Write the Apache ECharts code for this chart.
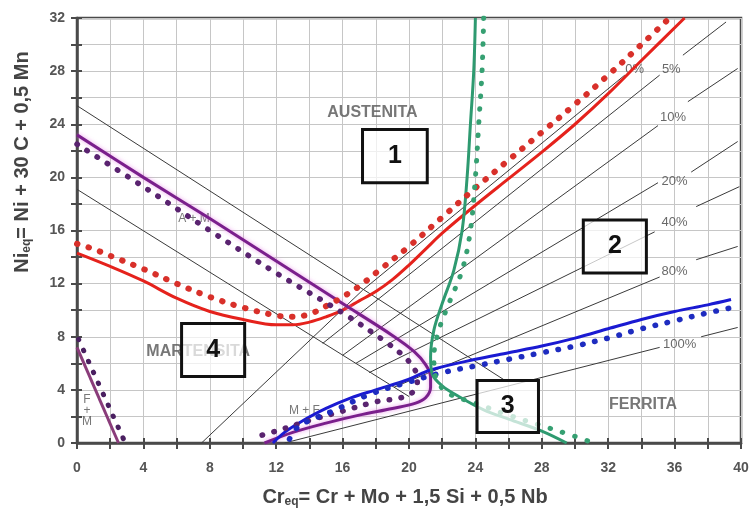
<!DOCTYPE html>
<html><head><meta charset="utf-8">
<script src="https://cdn.jsdelivr.net/npm/echarts@6/dist/echarts.min.js"></script>
<style>html,body{margin:0;padding:0;background:#fff}#c{width:752px;height:512px}</style>
</head><body><div id="c"></div>
<script>
// ---- axis ticks ----
const xTicks = [0, 4, 8, 12, 16, 20, 24, 28, 32, 36, 40];
const yTicks = [0, 4, 8, 12, 16, 20, 24, 28, 32];

// ---- thin black Schaeffler lines ----
const blackUpper = [[0, 25.4], [25.8, 4.7]];
const blackLower = [[0, 19.1], [20.0, 3.5]];
const blackRise = [[7.5, 0], [17.2, 11.5]];
const ferrite0 = [[17.2, 11.5], [33.0, 27.7]];
const ferrite5a = [[14.8, 7.5], [35.1, 27.7]];
const ferrite5b = [[36.5, 29.2], [39.1, 31.7]];
const ferrite10a = [[16.0, 6.6], [35.0, 23.9]];
const ferrite10b = [[36.8, 25.7], [39.8, 28.2]];
const ferrite20a = [[16.8, 6.0], [35.0, 19.6]];
const ferrite20b = [[37.0, 20.4], [39.8, 22.7]];
const ferrite40a = [[17.6, 5.3], [34.8, 15.9]];
const ferrite40b = [[37.3, 17.8], [39.9, 19.3]];
const ferrite80a = [[19.1, 4.2], [35.1, 12.5]];
const ferrite80b = [[37.3, 13.8], [39.8, 14.8]];
const ferrite100a = [[12.5, 0], [35.1, 7.2]];
const ferrite100b = [[37.6, 8.0], [39.8, 8.7]];

// ---- coloured curves ----
const redSolid = [[0,14.3],[2,13.3],[4,12.2],[6,10.9],[8,9.9],[10,9.3],[12,8.9],[13,8.9],[14,9.1],[15,9.5],[16,10.0],[17,10.7],[18,11.4],[19,12.3],[20,13.4],[21,14.6],[22,15.8],[24,17.9],[26,19.9],[28,21.9],[30,24.0],[32,26.3],[34,28.8],[36.6,32]];
const redDots = [[0,15.0],[1,14.6],[2,14.1],[4,13.1],[6,12.0],[8,11.0],[10,10.2],[12,9.6],[13,9.5],[14,9.7],[15,10.3],[16,11.0],[17,11.8],[18,12.8],[20,14.8],[22,17.0],[24,19.2],[26,21.3],[28,23.4],[30,25.5],[32,27.7],[34,30.0],[35.7,32]];
const purpleSolid = [[0,23.2],[4,20.0],[8,16.9],[12,13.7],[16,10.5],[19,8.1],[20.3,6.9],[21.0,5.9],[21.3,5.0],[21.3,4.2],[21.0,3.4],[20.4,3.0],[19,2.6],[17,2.1],[15,1.5],[13,0.8],[11.3,0]];
const purpleDots = [[0,22.5],[4,19.3],[8,16.0],[12,12.8],[16,9.8],[18.5,7.7],[19.8,6.4],[20.4,5.4],[20.5,4.5],[20.2,3.8],[19.5,3.4],[18,3.1],[16,2.4],[14,1.7],[12,0.9],[10.6,0.4]];
const fmSolid = [[0, 7.2], [2.5, 0]];
const fmDots = [[0.1, 7.8], [2.8, 0.3]];
const blueSolid = [[11.8,0],[12.5,0.8],[13.5,1.6],[15,2.6],[16.5,3.4],[18,4.0],[20,4.8],[21.3,5.5],[24,6.3],[26,6.8],[28,7.3],[30,7.9],[32,8.6],[34,9.3],[36,9.9],[38,10.4],[39.4,10.8]];
const blueDots = [[12.8,0.3],[13.4,1.3],[15.4,2.4],[17.7,3.7],[20,4.6],[22,5.3],[24,5.8],[26,6.3],[28,6.8],[30,7.3],[32,7.9],[34,8.6],[36,9.2],[38,9.8],[39.5,10.2]];
const greenSolid = [[24.0,32],[23.9,28],[23.7,24],[23.5,20],[23.2,16],[22.7,13],[22.0,10.5],[21.5,8.5],[21.3,6.5],[21.4,5.2],[22.0,4.3],[23.0,3.5],[24.5,2.5],[26,1.8],[28,0.9],[29.5,0]];
const greenDots = [[24.5,32],[24.4,28],[24.2,24],[24.0,20],[23.7,16],[23.2,13],[22.4,10.5],[21.8,8.5],[21.5,6.5],[21.6,5],[22.3,3.8],[24,3],[26,2.1],[28,1.3],[30,0.5],[31.1,0]];

// ---- annotation texts ----
const percentLabels = [['0%', 33.6, 28.1], ['5%', 35.8, 28.1], ['10%', 35.9, 24.5], ['20%', 36.0, 19.7], ['40%', 36.0, 16.6], ['80%', 36.0, 12.9], ['100%', 36.3, 7.4]];
const regionLabels = [['AUSTENITA', 17.8, 24.9], ['MARTENSITA', 7.3, 6.9], ['FERRITA', 34.1, 2.9]];
const smallLabels = [['A + M', 7.05, 16.9], ['M + F', 13.7, 2.4], ['F\n+\nM', 0.6, 2.4]];
const boxes = [['1', 17.2, 23.6, 21.1, 19.6], ['2', 30.5, 16.8, 34.3, 12.8], ['3', 24.1, 4.7, 27.8, 0.8], ['4', 6.3, 9.0, 10.1, 5.0]];

const FONT = 'Liberation Sans, Arial, sans-serif';
const chart = echarts.init(document.getElementById('c'), null, {renderer: 'canvas'});

function solid(data, color, width, z, extra) {
  return {type: 'line', data: data, symbol: 'none', smooth: 0.35, z: z || 3, silent: true,
    lineStyle: Object.assign({color: color, width: width}, extra || {})};
}
function dots(data, color, size, gap, z) {
  return {type: 'line', data: data, symbol: 'none', smooth: 0.35, z: z || 4, silent: true,
    lineStyle: {color: color, width: size, type: [0.5, gap], cap: 'round'}};
}
function thin(data) {
  return {type: 'line', data: data, symbol: 'none', z: 2, silent: true, lineStyle: {color: '#3a3a3a', width: 1}};
}
const thinLines = [blackUpper, blackLower, blackRise, ferrite0, ferrite5a, ferrite5b, ferrite10a, ferrite10b,
  ferrite20a, ferrite20b, ferrite40a, ferrite40b, ferrite80a, ferrite80b, ferrite100a, ferrite100b];

function labelSeries(list, style, z) {
  return {type: 'scatter', symbol: 'circle', symbolSize: 1, itemStyle: {color: 'rgba(0,0,0,0)'}, z: z || 6, silent: true,
    data: list.map(d => ({name: d[0], value: [d[1], d[2]]})),
    label: Object.assign({show: true, position: 'inside', formatter: p => p.name, fontFamily: FONT}, style),
    labelLayout: {hideOverlap: false}};
}

const series = [];
thinLines.forEach(l => series.push(thin(l)));
series.push(labelSeries(percentLabels, {fontSize: 13, color: '#444'}, 5));
series.push(labelSeries(regionLabels, {fontSize: 16, fontWeight: 'bold', color: '#555'}, 5));
series.push(labelSeries(smallLabels, {fontSize: 12, color: '#555', lineHeight: 11}, 5));
series.push(solid(fmSolid, '#8a3c7a', 3, 7));
series.push(dots(fmDots, '#4a1f60', 5, 11.5, 8));
series.push(solid(redSolid, '#e5221c', 3, 7));
series.push(dots(redDots, '#d8302a', 6, 11.5, 8));
series.push(solid(purpleSolid, '#7a1f8c', 3, 7, {shadowColor: 'rgba(230,120,230,0.7)', shadowBlur: 4}));
series.push(dots(purpleDots, '#5a2370', 5.5, 11.5, 8));
series.push(solid(blueSolid, '#1a1ad2', 3, 7));
series.push(dots(blueDots, '#1e2cc0', 5.5, 12, 8));
series.push(solid(greenSolid, '#2e9a70', 3, 7));
series.push(dots(greenDots, '#36a072', 5, 12.5, 8));
series.push({type: 'line', data: [], symbol: 'none', silent: true,
  markArea: {z: 20, silent: true,
    itemStyle: {color: 'rgba(255,255,255,0.72)', borderColor: '#111', borderWidth: 3},
    label: {show: true, position: 'inside', formatter: '{b}', fontSize: 25, fontWeight: 'bold', color: '#111', fontFamily: FONT},
    data: boxes.map(b => [{name: b[0], coord: [b[1], b[2]]}, {coord: [b[3], b[4]]}])}});

const tickLabel = {fontSize: 14, fontWeight: 'bold', color: '#555', fontFamily: FONT};
const option = {
  animation: false,
  backgroundColor: '#fff',
  grid: {left: 77, right: 11, top: 18, bottom: 69, show: true, borderColor: '#4a4a4a', borderWidth: 2.5, containLabel: false},
  xAxis: [{
    type: 'value', min: 0, max: 40, interval: 2, position: 'bottom',
    axisLine: {show: true, onZero: false, lineStyle: {color: '#4a4a4a', width: 2.5}},
    axisTick: {show: true, length: 6, lineStyle: {color: '#4a4a4a', width: 2}},
    axisLabel: Object.assign({margin: 18, formatter: v => (xTicks.indexOf(v) >= 0 ? String(v) : '')}, tickLabel),
    splitLine: {show: true, lineStyle: {color: '#c6c6c6', width: 1}}
  }, {
    type: 'value', min: 0, max: 40, interval: 2, position: 'bottom',
    axisLine: {show: false}, axisTick: {show: true, inside: true, length: 5, lineStyle: {color: '#4a4a4a', width: 2}},
    axisLabel: {show: false}, splitLine: {show: false}
  }],
  yAxis: [{
    type: 'value', min: 0, max: 32, interval: 2, position: 'left',
    axisLine: {show: true, onZero: false, lineStyle: {color: '#4a4a4a', width: 2.5}},
    axisTick: {show: true, length: 6, lineStyle: {color: '#4a4a4a', width: 2}},
    axisLabel: Object.assign({margin: 12, formatter: v => (yTicks.indexOf(v) >= 0 ? String(v) : '')}, tickLabel),
    splitLine: {show: true, lineStyle: {color: '#c6c6c6', width: 1}}
  }, {
    type: 'value', min: 0, max: 32, interval: 2, position: 'left',
    axisLine: {show: false}, axisTick: {show: true, inside: true, length: 5, lineStyle: {color: '#4a4a4a', width: 2}},
    axisLabel: {show: false}, splitLine: {show: false}
  }],
  graphic: [{
    type: 'text', x: 405, y: 497, silent: true,
    style: {
      text: '{a|Cr}{s|eq}{a|= Cr + Mo + 1,5 Si + 0,5 Nb}', align: 'center', verticalAlign: 'middle',
      rich: {a: {fontSize: 20, fontWeight: 'bold', fill: '#444', fontFamily: FONT},
             s: {fontSize: 12, fontWeight: 'bold', fill: '#444', fontFamily: FONT, padding: [10, 0, 0, 0]}}
    }
  }, {
    type: 'text', x: 22, y: 162, rotation: Math.PI / 2, silent: true,
    style: {
      text: '{a|Ni}{s|eq}{a|= Ni + 30 C + 0,5 Mn}', align: 'center', verticalAlign: 'middle',
      rich: {a: {fontSize: 20, fontWeight: 'bold', fill: '#444', fontFamily: FONT},
             s: {fontSize: 12, fontWeight: 'bold', fill: '#444', fontFamily: FONT, padding: [10, 0, 0, 0]}}
    }
  }],
  series: series
};
chart.setOption(option);
</script></body></html>
